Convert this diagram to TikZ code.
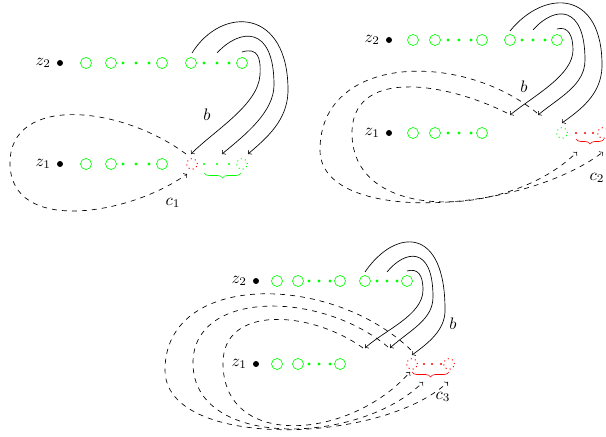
\documentclass[tikz,border=0pt]{standalone}
\usetikzlibrary{positioning,decorations.pathreplacing}

\tikzset{
  ring/.style={circle, draw=green, minimum size=6.6pt, inner sep=0pt},
  dotring/.style={circle, draw=#1, dotted, line width=0.6pt, minimum size=6.6pt, inner sep=0pt},
  gdot/.style={circle, fill=#1, minimum size=2pt, inner sep=0pt},
  pt/.style={circle, fill=black, minimum size=3.6pt, inner sep=0pt},
  strand/.style={->},
  back/.style={dashed, ->},
  brc/.style={decorate, decoration={brace, mirror, amplitude=3pt}},
}

\begin{document}
\begin{tikzpicture}[x=0.6pt,y=0.6pt]
\useasboundingbox (0,0) rectangle (606,-437);

% first step
\node[pt] (az2) at (60,-63) {};
\node[left=0pt of az2] (az2t) {$z_2$};
\node[ring] (aa1) at (86,-63) {};
\node[ring] (aa2) at (111,-63) {};
\node[gdot=green] (aa3) at (123,-63) {};
\node[gdot=green] (aa4) at (136,-63) {};
\node[gdot=green] (aa5) at (149,-63) {};
\node[ring] (aa6) at (162,-63) {};
\node[ring] (aa7) at (191,-63) {};
\node[gdot=green] (aa8) at (204,-63) {};
\node[gdot=green] (aa9) at (217,-63) {};
\node[gdot=green] (aa10) at (229,-63) {};
\node[ring] (aa11) at (242,-63) {};

\node[pt] (az1) at (60,-164) {};
\node[left=0pt of az1] (az1t) {$z_1$};
\node[ring] (ab1) at (86,-164) {};
\node[ring] (ab2) at (111,-164) {};
\node[gdot=green] (ab3) at (123,-164) {};
\node[gdot=green] (ab4) at (136,-164) {};
\node[gdot=green] (ab5) at (149,-164) {};
\node[ring] (ab6) at (162,-164) {};
\node[dotring=red] (ab7) at (192,-164) {};
\node[gdot=green, minimum size=1.4pt] (ab8) at (204,-164) {};
\node[gdot=green, minimum size=1.4pt] (ab9) at (217,-164) {};
\node[gdot=green, minimum size=1.4pt] (ab10) at (229,-164) {};
\node[dotring=green] (ab11) at (242,-164) {};
\draw[brc, green] (204,-173) -- (241,-173);

\coordinate (as1) at (192,-53);
\coordinate (as2) at (217,-53);
\coordinate (as3) at (242,-52);
\coordinate (ae1) at (191,-154);
\coordinate (ae2) at (222,-154);
\coordinate (ae3) at (248,-154);
\draw[strand] (as1) .. controls (222,-5) and (289,-8) .. (288,-92) .. controls (287,-120) and (268,-137) .. (ae3);
\draw[strand] (as2) .. controls (240,-28) and (274,-25) .. (274,-85) .. controls (274,-112) and (245,-135) .. (ae2);
\draw[strand] (as3) .. controls (258,-47) and (261,-58) .. (260,-75) .. controls (258,-105) and (215,-130) .. (ae1);
\node (ab) at (207,-115) {$b$};

\coordinate (ac1) at (186,-154);
\coordinate (ac2) at (187,-174);
\draw[back] (ac1) .. controls (120,-105) and (10,-95) .. (10,-163) .. controls (10,-235) and (130,-215) .. (ac2);
\node (ac) at (173,-203) {$c_1$};

% second step
\node[pt] (bz2) at (389,-40) {};
\node[left=0pt of bz2] (bz2t) {$z_2$};
\node[ring] (ba1) at (413,-40) {};
\node[ring] (ba2) at (435,-40) {};
\node[gdot=green] (ba3) at (448,-40) {};
\node[gdot=green] (ba4) at (459,-40) {};
\node[gdot=green] (ba5) at (471,-40) {};
\node[ring] (ba6) at (482,-40) {};
\node[ring] (ba7) at (510,-40) {};
\node[gdot=green] (ba8) at (522,-40) {};
\node[gdot=green] (ba9) at (533,-40) {};
\node[gdot=green] (ba10) at (545,-40) {};
\node[ring] (ba11) at (557,-40) {};

\node[pt] (bz1) at (389,-133) {};
\node[left=0pt of bz1] (bz1t) {$z_1$};
\node[ring] (bb1) at (413,-133) {};
\node[ring] (bb2) at (435,-133) {};
\node[gdot=green] (bb3) at (448,-133) {};
\node[gdot=green] (bb4) at (459,-133) {};
\node[gdot=green] (bb5) at (471,-133) {};
\node[ring] (bb6) at (482,-133) {};
\node[dotring=green] (bb7) at (562,-133) {};
\node[gdot=red, minimum size=1.4pt] (bb8) at (576,-133) {};
\node[gdot=red, minimum size=1.4pt] (bb9) at (585,-133) {};
\node[gdot=red, minimum size=1.4pt] (bb10) at (593,-133) {};
\node[dotring=red] (bb11) at (603,-133) {};
\draw[brc, red] (576,-139) -- (604,-139);

\coordinate (bs1) at (510,-31);
\coordinate (bs2) at (533,-30);
\coordinate (bs3) at (557,-29);
\coordinate (be1) at (510,-115);
\coordinate (be2) at (538,-115);
\coordinate (be3) at (562,-123);
\draw[strand] (bs1) .. controls (545,12) and (603,10) .. (602,-67) .. controls (601,-95) and (580,-110) .. (be3);
\draw[strand] (bs2) .. controls (555,-5) and (585,-5) .. (585,-60) .. controls (585,-85) and (560,-97) .. (be2);
\draw[strand] (bs3) .. controls (568,-26) and (573,-35) .. (573,-50) .. controls (573,-75) and (535,-95) .. (be1);
\node (bb) at (524,-87) {$b$};

\coordinate (bc1) at (537,-113);
\coordinate (bc2) at (603,-152);
\coordinate (bc3) at (507,-113);
\coordinate (bc4) at (577,-152);
\draw[back] (bc1) .. controls (460,-50) and (320,-55) .. (320,-150) .. controls (320,-225) and (520,-215) .. (bc2);
\draw[back] (bc3) .. controls (440,-80) and (352,-70) .. (352,-133) .. controls (352,-225) and (510,-218) .. (bc4);
\node (bc) at (597,-178) {$c_2$};

% third step
\node[pt] (cz2) at (256,-281) {};
\node[left=0pt of cz2] (cz2t) {$z_2$};
\node[ring] (ca1) at (277,-281) {};
\node[ring] (ca2) at (298,-281) {};
\node[gdot=green] (ca3) at (309,-281) {};
\node[gdot=green] (ca4) at (319,-281) {};
\node[gdot=green] (ca5) at (330,-281) {};
\node[ring] (ca6) at (340,-281) {};
\node[ring] (ca7) at (365,-281) {};
\node[gdot=green] (ca8) at (377,-281) {};
\node[gdot=green] (ca9) at (387,-281) {};
\node[gdot=green] (ca10) at (397,-281) {};
\node[ring] (ca11) at (407,-281) {};

\node[pt] (cz1) at (256,-364) {};
\node[left=0pt of cz1] (cz1t) {$z_1$};
\node[ring] (cb1) at (277,-364) {};
\node[ring] (cb2) at (298,-364) {};
\node[gdot=green] (cb3) at (309,-364) {};
\node[gdot=green] (cb4) at (319,-364) {};
\node[gdot=green] (cb5) at (330,-364) {};
\node[ring] (cb6) at (340,-364) {};
\node[dotring=red] (cb7) at (412,-364) {};
\node[gdot=red, minimum size=1.4pt] (cb8) at (424,-364) {};
\node[gdot=red, minimum size=1.4pt] (cb9) at (432,-364) {};
\node[gdot=red, minimum size=1.4pt] (cb10) at (441,-364) {};
\node[dotring=red] (cb11) at (449,-364) {};
\draw[brc, red] (412,-372) -- (449,-372);

\coordinate (cs1) at (365,-272);
\coordinate (cs2) at (387,-272);
\coordinate (cs3) at (407,-271);
\coordinate (ce1) at (365,-348);
\coordinate (ce2) at (390,-348);
\coordinate (ce3) at (412,-355);
\draw[strand] (cs1) .. controls (395,-228) and (446,-225) .. (445,-312) .. controls (444,-330) and (430,-342) .. (ce3);
\draw[strand] (cs2) .. controls (405,-250) and (433,-245) .. (433,-297) .. controls (433,-320) and (410,-330) .. (ce2);
\draw[strand] (cs3) .. controls (418,-268) and (423,-275) .. (423,-290) .. controls (423,-315) and (385,-330) .. (ce1);
\node (cb) at (453,-324) {$b$};

\coordinate (cc1) at (411,-350);
\coordinate (cc2) at (448,-382);
\coordinate (cc3) at (388,-347);
\coordinate (cc4) at (423,-382);
\coordinate (cc5) at (363,-348);
\coordinate (cc6) at (410,-372);
\draw[back] (cc1) .. controls (330,-272) and (165,-272) .. (165,-370) .. controls (165,-450) and (380,-445) .. (cc2);
\draw[back] (cc3) .. controls (320,-290) and (193,-290) .. (193,-363) .. controls (193,-450) and (360,-445) .. (cc4);
\draw[back] (cc5) .. controls (310,-310) and (223,-305) .. (223,-363) .. controls (223,-450) and (350,-440) .. (cc6);
\node (cc) at (443,-397) {$c_3$};
\end{tikzpicture}
\end{document}
